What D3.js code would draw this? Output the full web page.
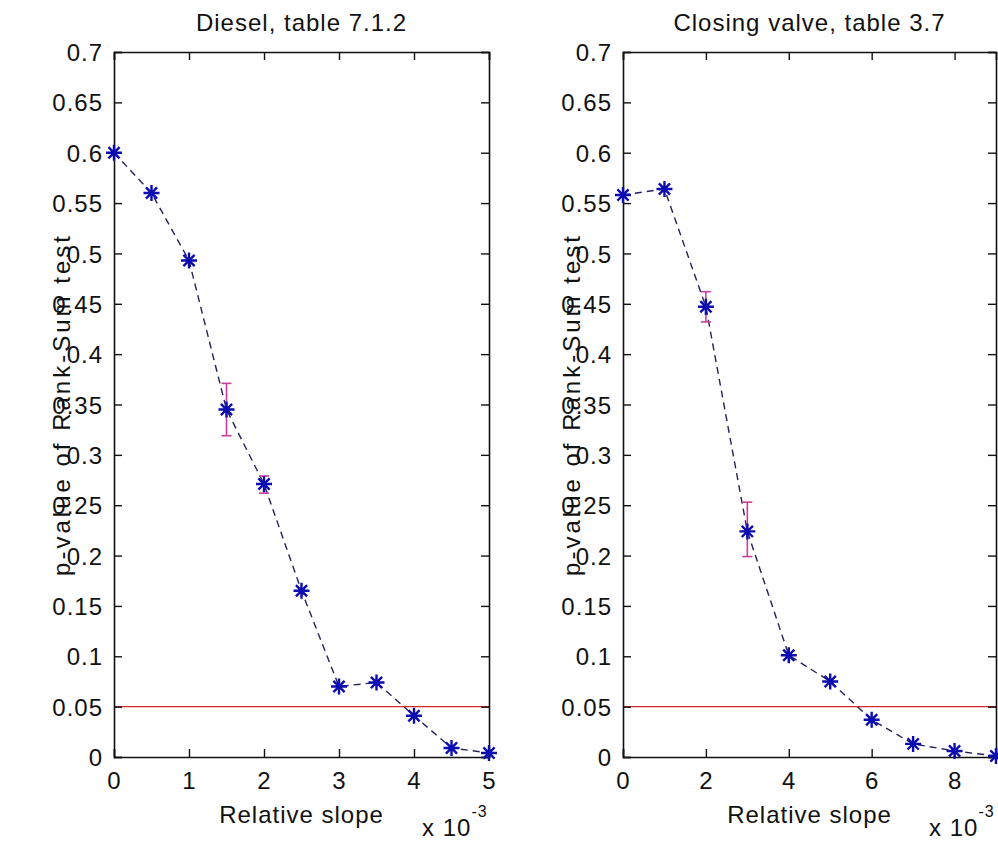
<!DOCTYPE html>
<html>
<head>
<meta charset="utf-8">
<script src="https://cdn.jsdelivr.net/npm/d3@7"></script>
<style>
    body { margin: 0; background: #fff; }
    text { font-family: "Liberation Sans", Arial, sans-serif; fill: #111; }
</style>
</head>
<body>
<svg id="chart" width="998" height="841"></svg>
<script>
// ---- data (x values are in units of 1e-3) ----
var dieselSlope = [0, 0.5, 1, 1.5, 2, 2.5, 3, 3.5, 4, 4.5, 5];
var dieselP = [0.600, 0.560, 0.493, 0.345, 0.271, 0.165, 0.070, 0.074, 0.041, 0.009, 0.004];
var dieselLow = [null, null, null, 0.319, 0.262, null, null, null, null, null, null];
var dieselHigh = [null, null, null, 0.371, 0.279, null, null, null, null, null, null];

var valveSlope = [0, 1, 2, 3, 4, 5, 6, 7, 8, 9];
var valveP = [0.558, 0.564, 0.447, 0.224, 0.101, 0.075, 0.037, 0.013, 0.006, 0.001];
var valveLow = [null, null, 0.432, 0.199, null, null, null, null, null, null];
var valveHigh = [null, null, 0.462, 0.253, null, null, null, null, null, null];

var yTicks = [0, 0.05, 0.1, 0.15, 0.2, 0.25, 0.3, 0.35, 0.4, 0.45, 0.5, 0.55, 0.6, 0.65, 0.7];
var dieselXTicks = [0, 1, 2, 3, 4, 5];
var valveXTicks = [0, 2, 4, 6, 8];
var threshold = 0.05;

var svg = d3.select('#chart');

function pack(xs, ys, lo, hi) {
    return xs.map(function (x, i) {
        return { x: x, y: ys[i], lo: lo[i], hi: hi[i] };
    });
}

// one MATLAB style subplot
function drawPanel(opt) {
    var x = d3.scaleLinear().domain(opt.xDomain).range([opt.left, opt.right]);
    var y = d3.scaleLinear().domain([0, 0.7]).range([opt.bottom, opt.top]);
    var g = svg.append('g');
    var tk = 8;

    // threshold line
    g.append('line')
        .attr('x1', opt.left).attr('x2', opt.right)
        .attr('y1', y(threshold)).attr('y2', y(threshold))
        .attr('stroke', '#d42a2a').attr('stroke-width', 1.2);

    // axes (ticks inward on every side)
    var axL = d3.axisLeft(y).tickValues(yTicks).tickSize(-tk).tickPadding(11)
        .tickFormat(function (d) { return d3.format('')(+d.toFixed(2)); });
    var axR = d3.axisRight(y).tickValues(yTicks).tickSize(-tk).tickFormat('');
    var axB = d3.axisBottom(x).tickValues(opt.xTicks).tickSize(-tk).tickPadding(15)
        .tickFormat(d3.format('d'));
    var axT = d3.axisTop(x).tickValues(opt.xTicks).tickSize(-tk).tickFormat('');

    var gl = g.append('g').attr('transform', 'translate(' + opt.left + ',0)').call(axL);
    var gr = g.append('g').attr('transform', 'translate(' + opt.right + ',0)').call(axR);
    var gb = g.append('g').attr('transform', 'translate(0,' + opt.bottom + ')').call(axB);
    var gt = g.append('g').attr('transform', 'translate(0,' + opt.top + ')').call(axT);

    [gl, gr, gb, gt].forEach(function (a) {
        a.select('.domain').attr('stroke', '#111').attr('stroke-width', 1.6);
        a.selectAll('.tick line').attr('stroke', '#111').attr('stroke-width', 1.4);
        a.selectAll('.tick text')
            .style('font-family', '"Liberation Sans", Arial, sans-serif')
            .style('font-size', '24px')
            .style('letter-spacing', '1px')
            .attr('fill', '#111');
    });
    gl.selectAll('.tick text').attr('dy', '0.36em');
    gb.selectAll('.tick text').attr('dy', '0.72em');

    var data = pack(opt.xs, opt.ys, opt.lo, opt.hi);

    // dashed connecting line
    var line = d3.line().x(function (d) { return x(d.x); }).y(function (d) { return y(d.y); });
    g.append('path')
        .datum(data)
        .attr('d', line)
        .attr('fill', 'none')
        .attr('stroke', '#22225a')
        .attr('stroke-width', 1.4)
        .attr('stroke-dasharray', '7,5');

    // error bars
    var eb = data.filter(function (d) { return d.lo != null; });
    var cap = 5;
    var ebg = g.selectAll('g.err').data(eb).enter().append('g').attr('class', 'err')
        .attr('stroke', '#c8409c').attr('stroke-width', 1.6);
    ebg.append('line')
        .attr('x1', function (d) { return x(d.x); }).attr('x2', function (d) { return x(d.x); })
        .attr('y1', function (d) { return y(d.lo); }).attr('y2', function (d) { return y(d.hi); });
    ebg.append('line')
        .attr('x1', function (d) { return x(d.x) - cap; }).attr('x2', function (d) { return x(d.x) + cap; })
        .attr('y1', function (d) { return y(d.lo); }).attr('y2', function (d) { return y(d.lo); });
    ebg.append('line')
        .attr('x1', function (d) { return x(d.x) - cap; }).attr('x2', function (d) { return x(d.x) + cap; })
        .attr('y1', function (d) { return y(d.hi); }).attr('y2', function (d) { return y(d.hi); });

    // asterisk markers
    var r = 8, rd = 5.6;
    g.selectAll('path.mark').data(data).enter().append('path')
        .attr('class', 'mark')
        .attr('transform', function (d) { return 'translate(' + x(d.x) + ',' + y(d.y) + ')'; })
        .attr('d', 'M' + (-r) + ',0H' + r + 'M0,' + (-r) + 'V' + r +
            'M' + (-rd) + ',' + (-rd) + 'L' + rd + ',' + rd +
            'M' + (-rd) + ',' + rd + 'L' + rd + ',' + (-rd))
        .attr('fill', 'none')
        .attr('stroke', '#0c0cb0')
        .attr('stroke-width', 2.4);

    var cx = (opt.left + opt.right) / 2;

    // title
    g.append('text')
        .attr('x', cx).attr('y', 31)
        .attr('text-anchor', 'middle')
        .style('font-size', '24px').style('letter-spacing', '1px')
        .text(opt.title);

    // x label
    g.append('text')
        .attr('x', cx).attr('y', 823)
        .attr('text-anchor', 'middle')
        .style('font-size', '24px').style('letter-spacing', '1px')
        .text('Relative slope');

    // exponent note
    var ex = g.append('text')
        .attr('x', opt.expX).attr('y', 836)
        .style('font-size', '24px').style('letter-spacing', '1px')
        .text('x 10');
    ex.append('tspan')
        .attr('dy', -19)
        .style('font-size', '16px')
        .text('-3');

    // y label
    g.append('text')
        .attr('transform', 'translate(' + opt.yLabelX + ',' + ((opt.top + opt.bottom) / 2) + ') rotate(-90)')
        .attr('text-anchor', 'middle')
        .style('font-size', '24px').style('letter-spacing', '3px')
        .text('p-value of Rank-Sum test');
}

drawPanel({
    title: 'Diesel, table 7.1.2',
    xs: dieselSlope, ys: dieselP, lo: dieselLow, hi: dieselHigh,
    xDomain: [0, 5], xTicks: dieselXTicks,
    left: 114, right: 489, top: 52, bottom: 757,
    expX: 422, yLabelX: 70
});

drawPanel({
    title: 'Closing valve, table 3.7',
    xs: valveSlope, ys: valveP, lo: valveLow, hi: valveHigh,
    xDomain: [0, 9], xTicks: valveXTicks,
    left: 623, right: 996, top: 52, bottom: 757,
    expX: 929, yLabelX: 580
});
</script>
</body>
</html>
